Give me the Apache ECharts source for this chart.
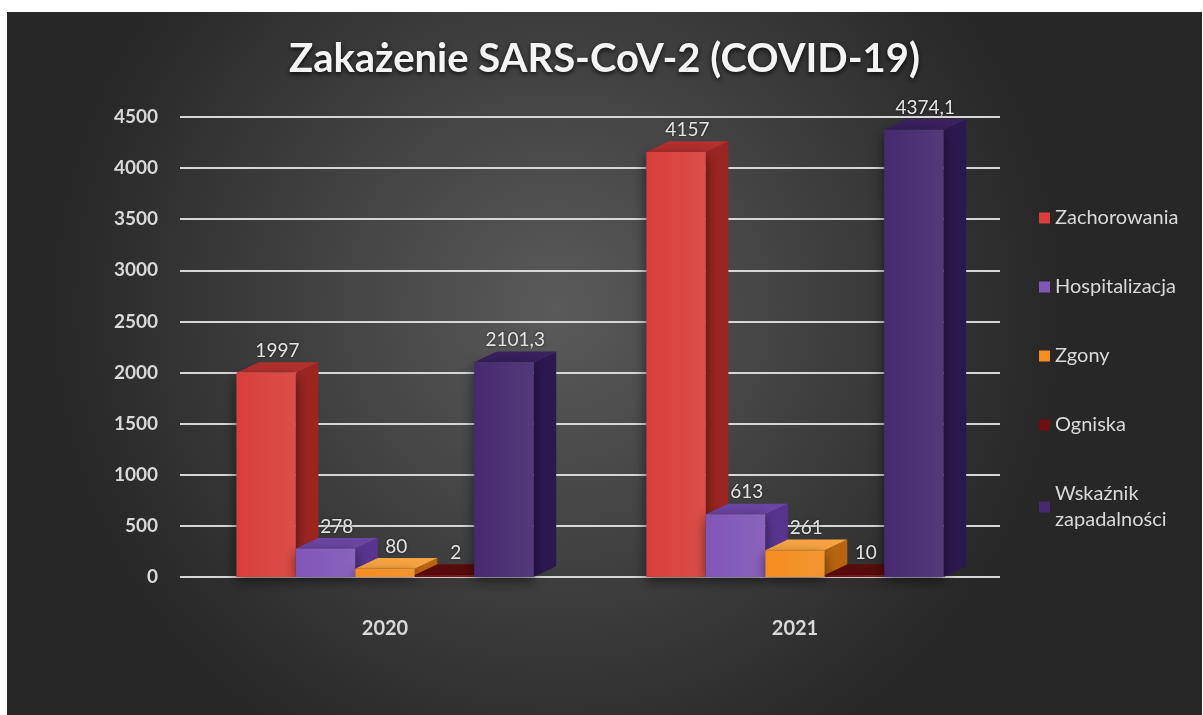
<!DOCTYPE html>
<html>
<head>
<meta charset="utf-8">
<script src="https://cdn.jsdelivr.net/npm/echarts@6/dist/echarts.min.js"></script>
<style>
html, body { margin: 0; background: #fff; }
#chart { position: absolute; left: 7px; top: 12px; width: 1195px; height: 703px; }
</style>
</head>
<body>
<div id="chart"></div>
<script>
// dane z wykresu
var years = ['2020', '2021'];
var seriesNames = ['Zachorowania', 'Hospitalizacja', 'Zgony', 'Ogniska', 'Wskaźnik zapadalności'];
var zachorowania = [1997, 4157];
var hospitalizacja = [278, 613];
var zgony = [80, 261];
var ogniska = [2, 10];
var wskaznik = [2101.3, 4374.1];
var yMin = 0, yMax = 4500, yStep = 500;

// kolory: przód, bok, góra
var palette = [
    ['#d83f3a', '#9c2522', '#b3302c'],
    ['#8056b8', '#583490', '#6c45a4'],
    ['#f38d1f', '#b8640e', '#f7a442'],
    ['#6e0f0f', '#4a0707', '#5a0b0b'],
    ['#46296f', '#2c1850', '#38215e']
];

var values = [zachorowania, hospitalizacja, zgony, ogniska, wskaznik];

function fmt(v) {
    return String(v).replace('.', ',');
}

function makeRender(idx) {
    var cols = palette[idx];
    return function (params, api) {
        var cat = api.value(0);
        var val = api.value(1);
        var top = api.coord([cat, val]);
        var base = api.coord([cat, 0]);
        var band = api.size([1, 0])[0];
        var w = band * 0.145;
        var dx = w * 0.38, dy = -w * 0.18;
        var x0 = top[0] - w * 2.5 + idx * w;
        var y0 = Math.min(top[1], base[1] - 2);
        var y1 = base[1];
        return {
            type: 'group',
            children: [
                {
                    type: 'polygon',
                    shape: { points: [[x0 + w, y0], [x0 + w + dx, y0 + dy], [x0 + w + dx, y1 + dy], [x0 + w, y1]] },
                    style: { fill: cols[1] }
                },
                {
                    type: 'polygon',
                    shape: { points: [[x0, y0], [x0 + dx, y0 + dy], [x0 + w + dx, y0 + dy], [x0 + w, y0]] },
                    style: { fill: cols[2] }
                },
                {
                    type: 'rect',
                    shape: { x: x0, y: y0, width: w, height: y1 - y0 },
                    style: {
                        fill: new echarts.graphic.LinearGradient(0, 0, 1, 0, [
                            { offset: 0, color: cols[0] },
                            { offset: 1, color: echarts.color.lift(cols[0], 0.08) }
                        ]),
                        shadowBlur: 12,
                        shadowColor: 'rgba(0,0,0,0.55)',
                        shadowOffsetY: 4
                    }
                },
                {
                    type: 'text',
                    style: {
                        text: fmt(val),
                        x: x0 + w / 2 + dx / 2,
                        y: y0 + dy - 2,
                        align: 'center',
                        verticalAlign: 'bottom',
                        fill: '#e4e4e4',
                        font: '19px Lato',
                        textShadowBlur: 3,
                        textShadowColor: 'rgba(0,0,0,0.6)'
                    }
                }
            ]
        };
    };
}

var mychart = echarts.init(document.getElementById('chart'));

var series = [];
for (var i = 0; i < seriesNames.length; ++i) {
    series.push({
        name: seriesNames[i],
        type: 'custom',
        renderItem: makeRender(i),
        itemStyle: { color: palette[i][0] },
        encode: { x: 0, y: 1 },
        data: years.map(function (y, j) { return [j, values[i][j]]; })
    });
}

var option = {
    backgroundColor: {
        type: 'radial', x: 0.46, y: 0.42, r: 0.72,
        colorStops: [
            { offset: 0, color: '#5a5a5a' },
            { offset: 1, color: '#272727' }
        ]
    },
    title: {
        text: 'Zakażenie SARS-CoV-2 (COVID-19)',
        left: 'center',
        top: 22,
        textStyle: {
            color: '#f4f4f4',
            fontSize: 40,
            fontWeight: 'bold',
            fontFamily: 'Lato',
            textShadowColor: 'rgba(0,0,0,0.8)',
            textShadowBlur: 5,
            textShadowOffsetY: 2
        }
    },
    legend: {
        orient: 'vertical',
        left: 1027,
        top: 188,
        itemGap: 43,
        itemWidth: 11,
        itemHeight: 11,
        icon: 'rect',
        data: seriesNames,
        formatter: function (name) {
            return name === 'Wskaźnik zapadalności' ? 'Wskaźnik\nzapadalności' : name;
        },
        textStyle: { color: '#d9d9d9', fontSize: 20, fontFamily: 'Lato', lineHeight: 26 }
    },
    grid: { left: 173, right: 202, top: 105, bottom: 138 },
    xAxis: {
        type: 'category',
        data: years,
        axisLine: { show: false },
        axisTick: { show: false },
        axisLabel: { color: '#d9d9d9', fontSize: 20, fontWeight: 'bold', fontFamily: 'Lato', margin: 42 }
    },
    yAxis: {
        type: 'value',
        min: yMin,
        max: yMax,
        interval: yStep,
        axisLine: { show: false },
        axisTick: { show: false },
        axisLabel: {
            color: '#d9d9d9', fontSize: 19, fontWeight: 'bold', fontFamily: 'Lato', margin: 22,
            formatter: function (v) { return String(v); }
        },
        splitLine: { lineStyle: { color: '#d6d6d6', width: 2 } }
    },
    series: series
};

mychart.setOption(option);
window.addEventListener('resize', function () {
    mychart.resize();
});
</script>
</body>
</html>
